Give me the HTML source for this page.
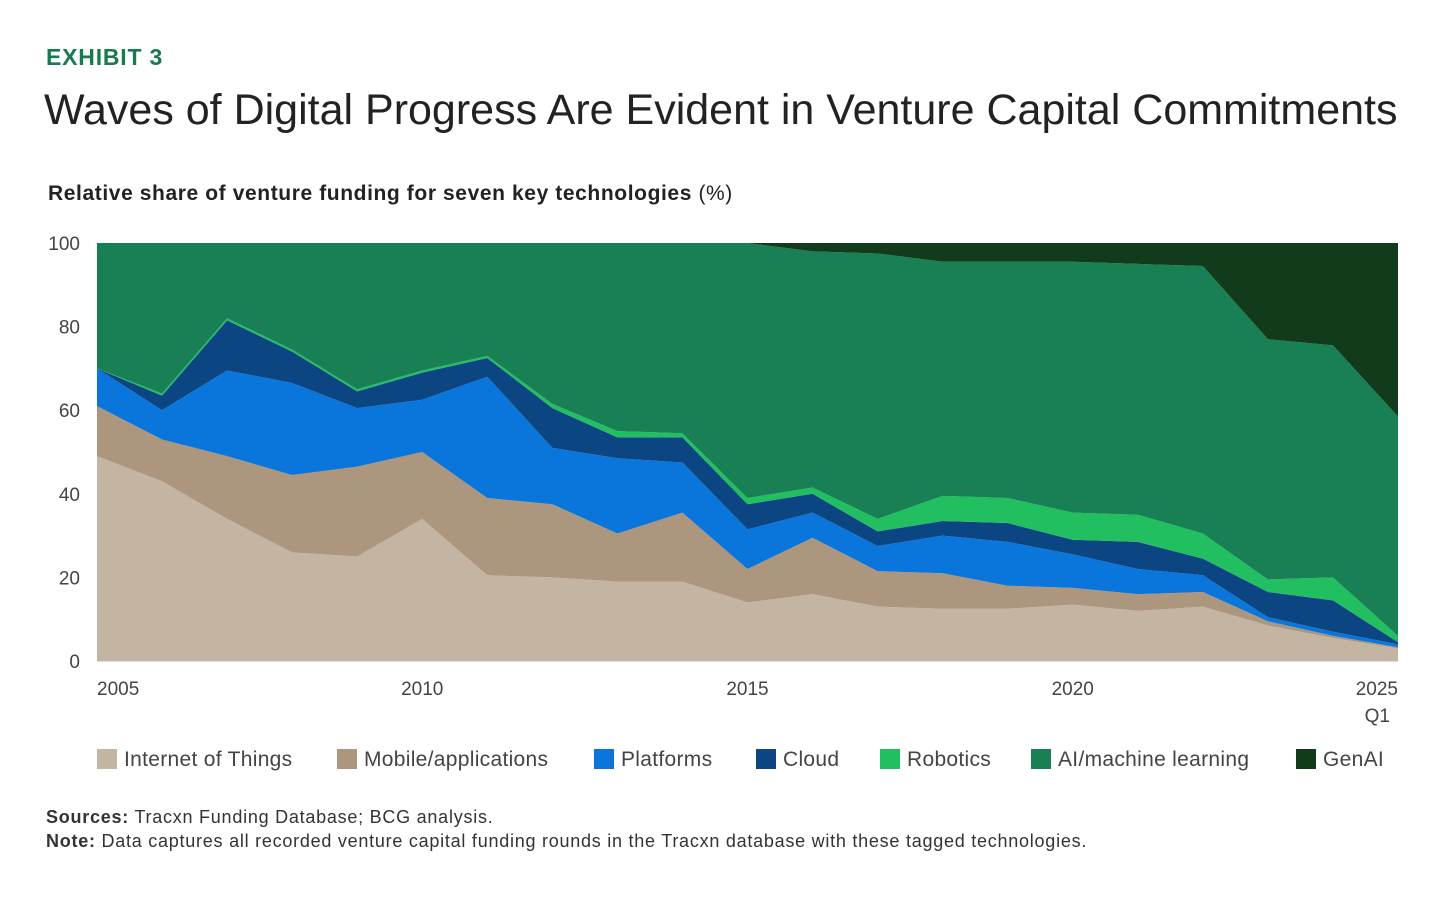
<!DOCTYPE html>
<html><head><meta charset="utf-8">
<style>
body{margin:0;background:#fff;font-family:"Liberation Sans",sans-serif;}
#wrap{position:relative;width:1456px;height:920px;overflow:hidden;}
.t{position:absolute;white-space:nowrap;}
</style></head>
<body>
<div id="wrap">
<div class="t" style="left:46px;top:44px;font-size:23px;font-weight:bold;color:#197a4f;letter-spacing:0.8px">EXHIBIT 3</div>
<div class="t" style="left:44px;top:86px;font-size:43px;color:#222;letter-spacing:0px">Waves of Digital Progress Are Evident in Venture Capital Commitments</div>
<div class="t" style="left:48px;top:182px;font-size:21px;font-weight:bold;color:#222;letter-spacing:0.6px">Relative share of venture funding for seven key technologies <span style="font-weight:normal">(%)</span></div>
<svg id="chart" width="1456" height="800" style="position:absolute;left:0;top:0" font-family="Liberation Sans, sans-serif"></svg>
<div class="t" style="left:46px;top:807px;font-size:18px;color:#333;letter-spacing:0.75px"><b>Sources:</b> Tracxn Funding Database; BCG analysis.</div>
<div class="t" style="left:46px;top:831px;font-size:18px;color:#333;letter-spacing:0.75px"><b>Note:</b> Data captures all recorded venture capital funding rounds in the Tracxn database with these tagged technologies.</div>
</div>
<script>
const years=[2005,2006,2007,2008,2009,2010,2011,2012,2013,2014,2015,2016,2017,2018,2019,2020,2021,2022,2023,2024,2025];
const seriesNames=["Internet of Things","Mobile/applications","Platforms","Cloud","Robotics","AI/machine learning","GenAI"];
const seriesColors=["#c4b5a3","#ad967e","#0a76db","#0c4682","#21bf5f","#197f55","#113b1a"];
const iot=[49,43,34,26,25,34,20.5,20,19,19,14,16,13,12.5,12.5,13.5,12,13,8.5,5.5,3];
const mobile=[12,10,15,18.5,21.5,16,18.5,17.5,11.5,16.5,8,13.5,8.5,8.5,5.5,4,4,3.5,1,0.5,0.3];
const platforms=[9,7,20.5,22,14,12.5,29,13.5,18,12,9.5,6,6,9,10.5,8,6,4,1,1,0.7];
const cloud=[0,3.5,12,7.5,4,6.5,4.5,9.5,5,6,6,4.5,3.5,3.5,4.5,3.5,6.5,4,6,7.5,0.5];
const robotics=[0,0.5,0.5,0.5,0.5,0.5,0.5,1,1.5,1,1.5,1.5,3,6,6,6.5,6.5,6,3,5.5,1.5];
const ai=[30,36,18,25.5,35,30.5,27,38.5,45,45.5,61,56.5,63.5,56,56.5,60,60,64,57.5,55.5,52.5];
const genai=[0,0,0,0,0,0,0,0,0,0,0,2,2.5,4.5,4.5,4.5,5,5.5,23,24.5,41.5];
const yTicks=[0,20,40,60,80,100];
const xTickLabels=["2005","2010","2015","2020","2025"];
const all=[iot,mobile,platforms,cloud,robotics,ai,genai];
const NS="http://www.w3.org/2000/svg";
const svg=document.getElementById('chart');
const X0=97,X1=1398,Y0=661,Y1=243;
const xs=y=>X0+(y-years[0])/(years[years.length-1]-years[0])*(X1-X0);
const ys=v=>Y0-Math.min(v,100)/100*(Y0-Y1);
function mk(t,a){const e=document.createElementNS(NS,t);for(const k in a)e.setAttribute(k,a[k]);svg.appendChild(e);return e;}
let base=years.map(()=>0);
all.forEach((s,i)=>{
  const top=base.map((b,j)=>b+s[j]);
  let d="M"+years.map((y,j)=>xs(y)+","+ys(top[j])).join("L");
  for(let j=years.length-1;j>=0;j--)d+="L"+xs(years[j])+","+ys(base[j]);
  const p=mk('path',{d:d+"Z",fill:seriesColors[i]});
  
  
  base=top;
});
const ax=mk('line',{x1:X0,x2:X1,y1:Y0,y2:Y0,stroke:'#bbb','stroke-width':1});


yTicks.forEach(v=>{
  const t=mk('text',{x:80,y:ys(v)+7,'text-anchor':'end','font-size':19,fill:'#444'});
  t.textContent=v;
  
  
});
xTickLabels.forEach((l,i)=>{
  const x=xs(+l);
  const anchor=i==0?'start':(i==xTickLabels.length-1?'end':'middle');
  const t=mk('text',{x:x,y:695,'text-anchor':anchor,'font-size':19,fill:'#444'});
  t.textContent=l;
  
  
});
const q=mk('text',{x:X1-8,y:722,'text-anchor':'end','font-size':19,fill:'#444'});
q.textContent="Q1";


const legX=[97,337,594,756,880,1031,1296];
seriesNames.forEach((n,i)=>{
  const r=mk('rect',{x:legX[i],y:749,width:20,height:20,fill:seriesColors[i]});
  
  
  const t=mk('text',{x:legX[i]+27,y:766,'font-size':21,fill:'#444','letter-spacing':0.3});
  t.textContent=n;
  
  
});
</script>
</body></html>
